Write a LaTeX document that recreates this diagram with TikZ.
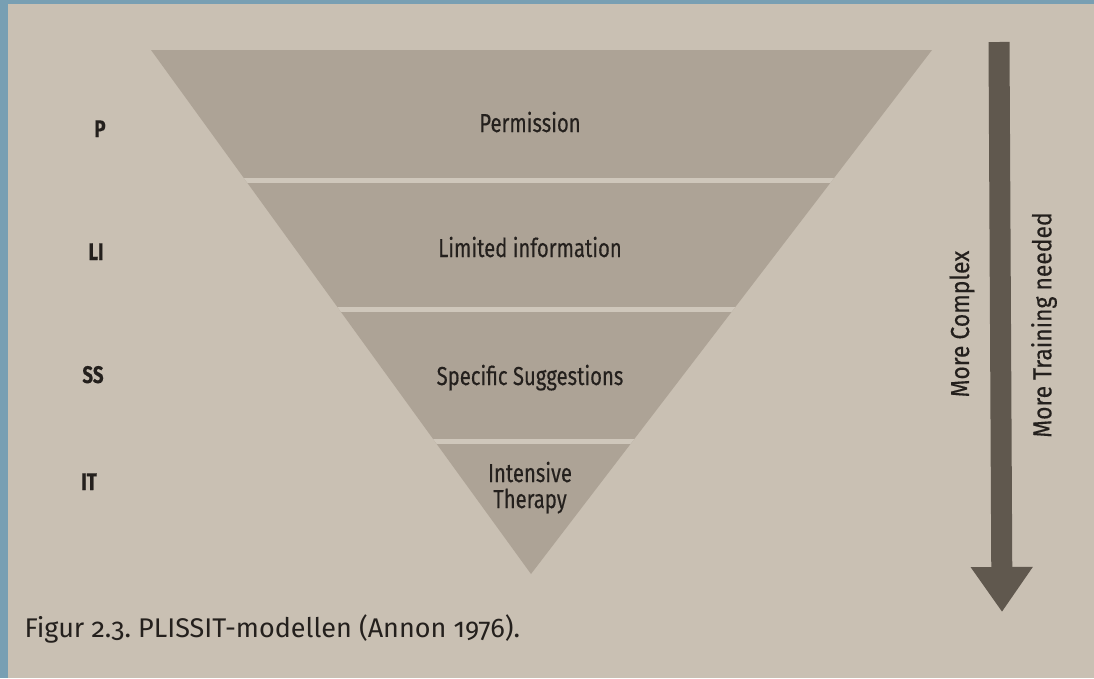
\documentclass[tikz,border=0pt]{standalone}
\usepackage{fontspec}
\setmainfont{Fira Sans}[Numbers=OldStyle]
\newfontfamily\narrowsf{Fira Sans}[FakeStretch=0.78,FakeBold=0.3]
\newfontfamily\sidesf{Fira Sans}[FakeStretch=0.88,FakeBold=0.3]
\usetikzlibrary{arrows.meta,positioning}
\definecolor{photoblue}{RGB}{120,159,179}
\definecolor{paper}{RGB}{201,192,179}
\definecolor{band}{RGB}{173,163,150}
\definecolor{gap}{RGB}{207,199,187}
\definecolor{shaft}{RGB}{96,88,78}
\definecolor{ink}{RGB}{36,32,29}
\tikzset{
  lvl/.style={anchor=base, text=ink, font=\narrowsf\fontsize{26}{26}\selectfont, align=center},
  tag/.style={anchor=base, text=ink, font=\narrowsf\bfseries\fontsize{24}{26}\selectfont},
  side/.style={rotate=90, text=ink, font=\sidesf\fontsize{26}{26}\selectfont}
}
\frenchspacing
\begin{document}
\begin{tikzpicture}[x=1pt, y=-1pt]
        \useasboundingbox (0,0) rectangle (1094,678);
        \fill[photoblue] (0,0) rectangle (1094,678);
        \fill[paper] (8,4) rectangle (1094,678);
        \coordinate (tl) at (151,50); \coordinate (tr) at (932,50); \coordinate (tip) at (531,574);
        \fill[band] (tl)--(tr)--(tip)--cycle;
        \begin{scope}
            \clip (tl)--(tr)--(tip)--cycle;
            \foreach \y in {180,309,441} \draw[gap, line width=5pt] (100,\y)--(1000,\y);
        \end{scope}
        \draw (530,132) node[lvl](perm){Permission} +(0,125) node[lvl](info){Limited information} +(0,253) node[lvl](sugg){Specific Suggestions} +(0,376) node[lvl](ther){Intensive\\Therapy};
        \draw (100,137) node[tag](p){P} +(-4,123) node[tag](li){LI} +(-7,246) node[tag](ss){SS} +(-11,353) node[tag](it){IT};
        %arrow
        \coordinate (arrtop) at (999,42); \coordinate (arrend) at (1002,612);
        \draw[shaft, line width=21pt, -{Triangle[width=59pt,length=45pt]}] (arrtop)--(arrend);
        \node[side] (cmplx) at (962,324) {More Complex};
        \node[side] (train) at (1044,325) {More Training needed};
        \node[anchor=base west, text=ink, font=\fontsize{27}{29}\selectfont] (cap) at (21,637) {Figur 2.3. PLISSIT-modellen (Annon 1976).};
\end{tikzpicture}
\end{document}
